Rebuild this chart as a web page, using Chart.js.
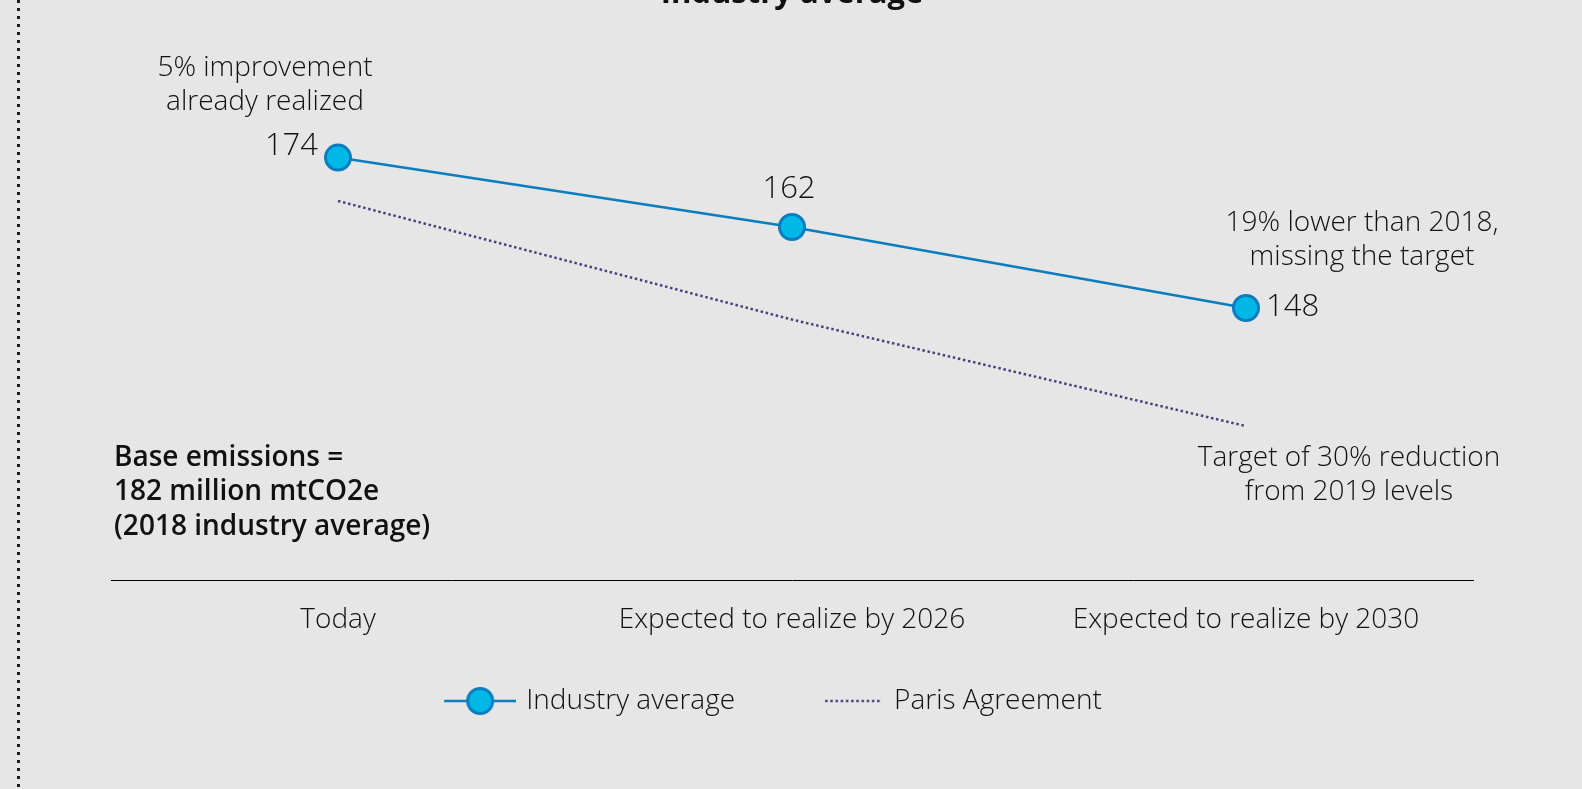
<!DOCTYPE html>
<html>
<head>
<meta charset="utf-8">
<script src="https://cdn.jsdelivr.net/npm/chart.js@4"></script>
<style>
  html, body { margin: 0; padding: 0; background: #e6e6e6; overflow: hidden; }
  #wrap { position: relative; width: 1582px; height: 789px; overflow: hidden; }
  #frame { position: absolute; left: 17px; top: 0; bottom: 0; width: 3px;
    background: repeating-linear-gradient(to bottom, #1a1a1a 0 3px, transparent 3px 8px); }
  #box { position: absolute; left: 0; top: -40px; width: 1582px; height: 829px; }
</style>
</head>
<body>
<div id="wrap">
  <div id="frame"></div>
  <div id="box"><canvas id="lineChart"></canvas></div>
</div>
<script>
// data
const categories = ['Today', 'Expected to realize by 2026', 'Expected to realize by 2030'];
const industryAverage = [174, 162, 148];
const parisAgreement = [166.5, 146, 127.6];
const yRange = [101, 195.9];

const noteToday = ['5% improvement', 'already realized'];
const note2030 = ['19% lower than 2018,', 'missing the target'];
const noteTarget = ['Target of 30% reduction', 'from 2019 levels'];
const noteBase = ['Base emissions =', '182 million mtCO2e', '(2018 industry average)'];

const lineBlue = '#0b7dbf';
const dotFill = '#00b8e6';
const purple = '#503e7b';
const ink = '#111111';
const FONT = '"Open Sans", "Liberation Sans", sans-serif';

// legend marks: line with a dot, and a short dotted line
function industryMark() {
    const c = document.createElement('canvas');
    c.width = 143; c.height = 32;
    const g = c.getContext('2d');
    g.strokeStyle = lineBlue;
    g.lineWidth = 2.5;
    g.beginPath(); g.moveTo(71, 16); g.lineTo(143, 16); g.stroke();
    g.beginPath(); g.arc(107, 16, 12.5, 0, Math.PI * 2);
    g.fillStyle = dotFill; g.fill();
    g.lineWidth = 3; g.stroke();
    return c;
}
function parisMark() {
    const c = document.createElement('canvas');
    c.width = 139; c.height = 4;
    const g = c.getContext('2d');
    g.strokeStyle = purple;
    g.lineWidth = 2.5;
    g.setLineDash([2.5, 2.7]);
    g.beginPath(); g.moveTo(82, 2); g.lineTo(139, 2); g.stroke();
    return c;
}
const legendMarks = [industryMark(), parisMark()];

function drawLines(ctx, lines, x, y, step) {
    lines.forEach((t, i) => ctx.fillText(t, x, y + i * step));
}

const notes = {
    id: 'notes',
    afterDatasetsDraw(chart) {
        const ctx = chart.ctx;
        const ind = chart.getDatasetMeta(0).data;
        const par = chart.getDatasetMeta(1).data;
        const area = chart.chartArea;
        ctx.save();
        ctx.fillStyle = ink;
        ctx.textBaseline = 'middle';

        // value labels
        ctx.font = '300 31px ' + FONT;
        ctx.textAlign = 'right';
        ctx.fillText(industryAverage[0], ind[0].x - 20, ind[0].y - 11);
        ctx.textAlign = 'center';
        ctx.fillText(industryAverage[1], ind[1].x - 3, ind[1].y - 38);
        ctx.textAlign = 'left';
        ctx.fillText(industryAverage[2], ind[2].x + 20, ind[2].y - 1);

        // notes
        ctx.font = '300 28px ' + FONT;
        ctx.textAlign = 'center';
        drawLines(ctx, noteToday, ind[0].x - 73, ind[0].y - 90, 34);
        drawLines(ctx, note2030, ind[2].x + 116, ind[2].y - 85, 34);
        drawLines(ctx, noteTarget, par[2].x + 103, par[2].y + 32, 34);

        ctx.font = '600 28px ' + FONT;
        ctx.textAlign = 'left';
        drawLines(ctx, noteBase, area.left + 3, area.bottom - 122, 34.5);
        ctx.restore();
    }
};

new Chart(document.getElementById('lineChart'), {
    type: 'line',
    data: {
        labels: categories,
        datasets: [{
            label: 'Industry average',
            data: industryAverage,
            borderColor: lineBlue,
            borderWidth: 2.5,
            pointRadius: 12.5,
            pointBorderWidth: 3,
            pointBackgroundColor: dotFill,
            pointBorderColor: lineBlue,
            tension: 0,
            order: 0,
        }, {
            label: 'Paris Agreement',
            data: parisAgreement,
            borderColor: purple,
            borderWidth: 2.5,
            borderDash: [2.5, 2.7],
            pointRadius: 0,
            tension: 0,
            order: 1,
        }],
    },
    options: {
        responsive: true,
        maintainAspectRatio: false,
        animation: false,
        events: [],
        layout: { padding: { left: 6, right: 109, top: 0, bottom: 64 } },
        scales: {
            x: {
                offset: true,
                grid: { display: false },
                border: { display: true, color: '#000', width: 1 },
                ticks: { color: ink, font: { family: FONT, size: 28, weight: 300 }, padding: 15, maxRotation: 0 },
                afterFit: (s) => { s.height = 97; },
            },
            y: {
                min: yRange[0],
                max: yRange[1],
                grid: { display: false },
                border: { display: false },
                ticks: { display: false },
                afterFit: (s) => { s.width = 105; },
            },
        },
        plugins: {
            title: {
                display: true,
                text: 'Industry average',
                fullSize: false,
                color: ink,
                font: { family: FONT, size: 31, weight: 'bold' },
                padding: { top: 16, bottom: 17.6 },
            },
            legend: {
                position: 'bottom',
                labels: {
                    usePointStyle: true,
                    pointStyleWidth: 135,
                    padding: 10,
                    color: ink,
                    font: { family: FONT, size: 28, weight: 300 },
                    generateLabels: (chart) => chart.data.datasets.map((ds, i) => ({
                        text: ds.label,
                        pointStyle: legendMarks[i],
                        datasetIndex: i,
                        lineWidth: 0,
                        fontColor: ink,
                        hidden: false,
                    })),
                },
            },
            tooltip: { enabled: false },
        },
    },
    plugins: [notes],
});
</script>
</body>
</html>
